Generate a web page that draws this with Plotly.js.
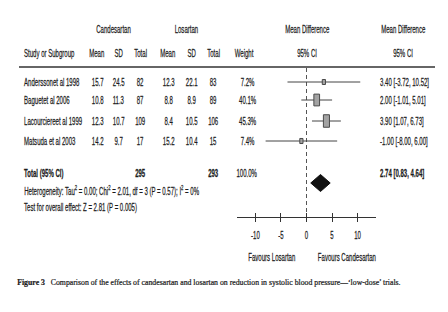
<!DOCTYPE html>
<html><head><meta charset="utf-8">
<script src="https://cdn.plot.ly/plotly-3.0.1.min.js"></script>
<style>html,body{margin:0;padding:0;background:#fff}#chart{width:448px;height:312px}</style>
</head><body><div id="chart"></div>
<script>
// ---- data ----
const studies = ["Anderssonet al 1998","Baguetet al 2006","Lacourciereet al 1999","Matsuda et al 2003"];
const candMean = [15.7, 10.8, 12.3, 14.2];
const candSD   = [24.5, 11.3, 10.7, 9.7];
const candN    = [82, 87, 109, 17];
const losMean  = [12.3, 8.8, 8.4, 15.2];
const losSD    = [22.1, 8.9, 10.5, 10.4];
const losN     = [83, 89, 106, 15];
const weight   = [7.2, 40.1, 45.3, 7.4];
const md       = [3.40, 2.00, 3.90, -1.00];
const ciLow    = [-3.72, -1.01, 1.07, -8.00];
const ciHigh   = [10.52, 5.01, 6.73, 6.00];
const totalMD = 2.74, totalLow = 0.83, totalHigh = 4.64;
const totalCandN = 295, totalLosN = 293, totalWeight = 100.0;
const heterogeneity = "Heterogeneity: Tau<sup>2</sup> = 0.00; Chi<sup>2</sup> = 2.01, df = 3 (P = 0.57); I<sup>2</sup> = 0%";
const overallTest = "Test for overall effect: Z = 2.81 (P = 0.005)";
const tickVals = [-10, -5, 0, 5, 10];
const tickText = ["-10", "-5", "0", "5", "10"];
const captionLabel = "Figure 3";
const captionText = "Comparison of the effects of candesartan and losartan on reduction in systolic blood pressure\u2014\u2018low-dose\u2019 trials.";

// ---- layout constants (pixel positions) ----
const W = 448, H = 312;
const FONT = "'Liberation Sans','Arial',sans-serif";
const SERIF = "'Liberation Serif','Times New Roman',serif";
const TXT = '#1c1c1c';
const FS = 11;
const SQUEEZE = 0.55;      // condensed look of the reference typeface
const CAP_SQUEEZE = 0.865;
const rowY = [82, 100, 121, 141];
const Y_H1 = 29, Y_H2 = 53, Y_LINE = 67, Y_TOTAL = 173, Y_DIAM = 183, DIAM_H = 8.5;
const Y_HET = 190, Y_TEST = 207, Y_AXIS = 217, Y_FAV = 257, Y_CAP = 282;
const COL = {study:22, cMean:97, cSD:118, cN:140, lMean:168, lSD:191, lN:213, wt:247, mdHead:307, ci:378, ciHead:403};
const px = x => x / W;
const xr = [-13.6, 13.6];
const X0PX = 237, X1PX = 376;
const PX_PER_UNIT = (X1PX - X0PX) / (xr[1] - xr[0]);

const fmt2 = v => v.toFixed(2);
const ciLabel = (m, l, h) => `${fmt2(m)} [${fmt2(l)}, ${fmt2(h)}]`;

const ann = [];
const squeezeOf = [];
function t(text, x, y, opts = {}, sq = SQUEEZE) {
  ann.push(Object.assign({
    text, x: px(x), xref: 'paper', y, yref: 'y', showarrow: false,
    xanchor: 'center', yanchor: 'middle',
    font: {family: FONT, size: FS, color: TXT}
  }, opts));
  squeezeOf.push(sq);
}
const bold = s => `<b>${s}</b>`;

// headers
t("Candesartan", 113, Y_H1);
t("Losartan", 186, Y_H1);
t("Mean Difference", COL.mdHead, Y_H1);
t("Mean Difference", COL.ciHead, Y_H1);
t("Study or Subgroup", COL.study, Y_H2, {xanchor: 'left'});
t("Mean", COL.cMean, Y_H2); t("SD", COL.cSD, Y_H2); t("Total", COL.cN, Y_H2);
t("Mean", COL.lMean, Y_H2); t("SD", COL.lSD, Y_H2); t("Total", COL.lN, Y_H2);
t("Weight", 244, Y_H2);
t("95% CI", COL.mdHead, Y_H2);
t("95% CI", COL.ciHead, Y_H2);

studies.forEach((s, i) => {
  const y = rowY[i];
  t(s, COL.study, y, {xanchor: 'left'});
  t(String(candMean[i]), COL.cMean, y);
  t(String(candSD[i]), COL.cSD, y);
  t(String(candN[i]), COL.cN, y);
  t(String(losMean[i]), COL.lMean, y);
  t(String(losSD[i]), COL.lSD, y);
  t(String(losN[i]), COL.lN, y);
  t(weight[i].toFixed(1) + "%", COL.wt, y);
  t(ciLabel(md[i], ciLow[i], ciHigh[i]), COL.ci, y, {xanchor: 'left'});
});

t(bold("Total (95% CI)"), COL.study, Y_TOTAL, {xanchor: 'left'});
t(bold(String(totalCandN)), COL.cN, Y_TOTAL);
t(bold(String(totalLosN)), COL.lN, Y_TOTAL);
t(totalWeight.toFixed(1) + "%", COL.wt, Y_TOTAL);
t(bold(ciLabel(totalMD, totalLow, totalHigh)), COL.ci, Y_TOTAL, {xanchor: 'left'});
t(heterogeneity, COL.study, Y_HET, {xanchor: 'left'});
t(overallTest, COL.study, Y_TEST, {xanchor: 'left'});
t("Favours Losartan", 272, Y_FAV);
t("Favours Candesartan", 347, Y_FAV);
t(`<b>${captionLabel}</b>   ${captionText}`, 15, Y_CAP, {xanchor: 'left', font: {family: SERIF, size: 9, color: TXT}}, CAP_SQUEEZE);

// weight boxes (taller than wide, as in the reference), drawn on the x axis scale
const boxHalfW = w => Math.max(1.6, 0.45 * Math.sqrt(w)) / PX_PER_UNIT;   // data units
const boxHalfH = w => Math.max(2.0, 0.93 * Math.sqrt(w));                 // pixels on y
const boxShapes = md.map((m, i) => ({
  type: 'rect', xref: 'x', yref: 'y', layer: 'above',
  x0: m - boxHalfW(weight[i]), x1: m + boxHalfW(weight[i]),
  y0: rowY[i] - boxHalfH(weight[i]), y1: rowY[i] + boxHalfH(weight[i]),
  fillcolor: '#a3a3a3', line: {color: '#4a4a4a', width: 1}
}));

const traces = [
  { // study estimates with CI
    type: 'scatter', mode: 'markers', x: md, y: rowY, xaxis: 'x', yaxis: 'y',
    marker: {symbol: 'square', size: 2, color: '#4a4a4a'},
    error_x: {type: 'data', symmetric: false, array: md.map((m, i) => ciHigh[i] - m), arrayminus: md.map((m, i) => m - ciLow[i]), width: 0, thickness: 1, color: '#444'},
    hoverinfo: 'skip'
  },
  { // pooled diamond
    type: 'scatter', mode: 'lines', xaxis: 'x', yaxis: 'y',
    x: [totalLow, totalMD, totalHigh, totalMD, totalLow],
    y: [Y_DIAM, Y_DIAM - DIAM_H, Y_DIAM, Y_DIAM + DIAM_H, Y_DIAM],
    fill: 'toself', fillcolor: '#111', line: {color: '#111', width: 1}, hoverinfo: 'skip'
  },
  { type: 'scatter', mode: 'markers', x: [0], y: [Y_AXIS], xaxis: 'x2', yaxis: 'y', marker: {opacity: 0}, hoverinfo: 'skip' }
];

const dom = [X0PX / W, X1PX / W];
const layout = {
  width: W, height: H, margin: {l: 0, r: 0, t: 0, b: 0},
  paper_bgcolor: '#fff', plot_bgcolor: 'rgba(0,0,0,0)', showlegend: false,
  xaxis: {domain: dom, range: xr, anchor: 'free', position: 1 - Y_AXIS / H,
    showline: true, linecolor: '#333', linewidth: 1, ticks: 'outside', ticklen: 4, tickcolor: '#333',
    tickvals: tickVals, ticktext: tickText, tickfont: {family: FONT, size: FS, color: TXT},
    ticklabelstandoff: 4, showgrid: false, zeroline: false, fixedrange: true},
  xaxis2: {overlaying: 'x', domain: dom, range: xr, anchor: 'free', position: 1 - Y_AXIS / H,
    ticks: 'inside', ticklen: 4, tickcolor: '#333', tickvals: tickVals, showticklabels: false,
    showline: false, showgrid: false, zeroline: false, fixedrange: true},
  yaxis: {domain: [0, 1], range: [H, 0], visible: false, fixedrange: true},
  shapes: [
    {type: 'line', xref: 'paper', yref: 'y', x0: px(19), x1: px(435), y0: Y_LINE, y1: Y_LINE, line: {color: '#333', width: 1.3}},
    {type: 'line', xref: 'x', yref: 'y', x0: 0, x1: 0, y0: Y_LINE + 1, y1: Y_AXIS, line: {color: '#555', width: 1, dash: '4px,3px'}, layer: 'below'}
  ].concat(boxShapes),
  annotations: ann
};

function squeeze(el, s, originFrac) {
  const b = el.getBBox();
  const ox = b.x + b.width * originFrac;
  const prev = el.getAttribute('transform') || '';
  el.setAttribute('transform', `${prev} translate(${ox},0) scale(${s},1) translate(${-ox},0)`.trim());
  el.style.stroke = TXT;
  el.style.strokeWidth = '0.25px';
}

Plotly.newPlot('chart', traces, layout, {displayModeBar: false, staticPlot: true}).then(gd => {
  gd.querySelectorAll('g.annotation').forEach(g => {
    const i = +g.getAttribute('data-index');
    const el = g.querySelector('text.annotation-text');
    if (!el) return;
    squeeze(el, squeezeOf[i], ann[i].xanchor === 'left' ? 0 : 0.5);
  });
  gd.querySelectorAll('g.xtick text').forEach(el => squeeze(el, SQUEEZE, 0.5));
});
</script></body></html>
